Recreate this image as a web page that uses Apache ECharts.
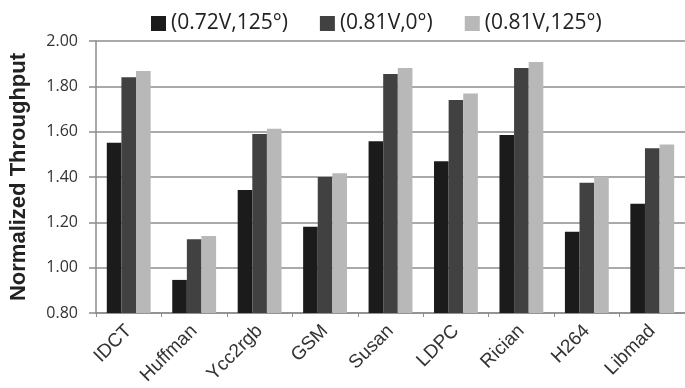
<!DOCTYPE html>
<html>
<head>
<meta charset="utf-8">
<script src="https://cdn.jsdelivr.net/npm/echarts@6/dist/echarts.min.js"></script>
<style>
  html, body { margin: 0; padding: 0; background: #fff; }
  #chart { width: 685px; height: 388px; }
</style>
</head>
<body>
<div id="chart"></div>
<script>
// Benchmarks on the x axis
const categories = ['IDCT', 'Huffman', 'Ycc2rgb', 'GSM', 'Susan', 'LDPC', 'Rician', 'H264', 'Libmad'];

// Normalized throughput for each operating point
const seriesNames = ['(0.72V,125°)', '(0.81V,0°)', '(0.81V,125°)'];
const v072_125 = [1.551, 0.946, 1.343, 1.181, 1.558, 1.469, 1.585, 1.159, 1.282];
const v081_0   = [1.840, 1.125, 1.590, 1.400, 1.854, 1.740, 1.881, 1.375, 1.527];
const v081_125 = [1.868, 1.140, 1.613, 1.416, 1.881, 1.768, 1.907, 1.401, 1.543];

// Value axis ticks
const yTicks = { min: 0.8, max: 2.0, step: 0.2 };

const colors = ['#1b1b1b', '#414141', '#b8b8b8'];
const seriesValues = [v072_125, v081_0, v081_125];

const chart = echarts.init(document.getElementById('chart'), null, { renderer: 'canvas' });

chart.setOption({
  animation: false,
  backgroundColor: '#ffffff',
  legend: {
    top: 8,
    left: 146,
    itemWidth: 15,
    itemHeight: 15,
    itemGap: 32,
    icon: 'rect',
    textStyle: { fontFamily: 'Open Sans', fontSize: 21, color: '#222' },
    data: seriesNames
  },
  grid: { left: 91, right: 0, top: 41, bottom: 75, containLabel: false },
  xAxis: {
    type: 'category',
    data: categories,
    axisLine: { lineStyle: { color: '#8c8c8c', width: 1.5 } },
    axisTick: { show: true, length: 4, lineStyle: { color: '#8c8c8c', width: 1 } },
    axisLabel: {
      rotate: 45,
      fontFamily: 'Liberation Sans',
      fontSize: 19,
      color: '#333',
      margin: 15
    }
  },
  yAxis: {
    type: 'value',
    min: yTicks.min,
    max: yTicks.max,
    interval: yTicks.step,
    name: 'Normalized Throughput',
    nameLocation: 'middle',
    nameGap: 66,
    nameTextStyle: { fontFamily: 'Liberation Sans', fontWeight: 'bold', fontSize: 22, color: '#222' },
    axisLine: { show: true, lineStyle: { color: '#8c8c8c', width: 1.5 } },
    axisTick: { show: true, length: 7, lineStyle: { color: '#8c8c8c', width: 1.5 } },
    axisLabel: {
      formatter: v => v.toFixed(2),
      fontFamily: 'Open Sans',
      fontSize: 16,
      color: '#333',
      margin: 18
    },
    splitLine: { show: true, lineStyle: { color: '#8c8c8c', width: 1.5 } }
  },
  series: seriesNames.map((name, i) => ({
    name: name,
    type: 'bar',
    data: seriesValues[i],
    barGap: '0%',
    barCategoryGap: '33%',
    itemStyle: { color: colors[i] }
  }))
});
</script>
</body>
</html>
